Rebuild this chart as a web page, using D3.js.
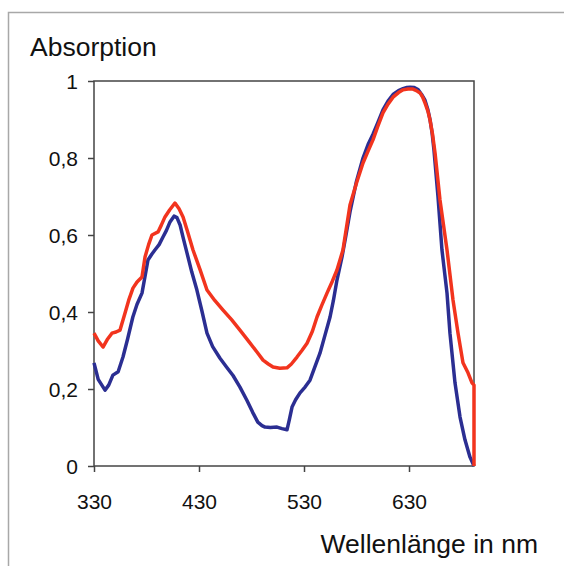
<!DOCTYPE html>
<html>
<head>
<meta charset="utf-8">
<script src="https://cdn.jsdelivr.net/npm/d3@7"></script>
<style>
  html, body { margin: 0; padding: 0; background: #fff; }
  text { font-family: "Liberation Sans", Arial, sans-serif; fill: #111; }
</style>
</head>
<body>
<div id="chart"></div>
<script>
// Wavelength (nm) and absorption readings
const blueNm = [330, 334, 340.5, 344, 348, 353, 357.6, 362, 367, 371, 375.7, 381.4, 385, 388, 392, 395.7, 399, 402.4, 406.2, 409, 412, 415, 418.6, 423, 428, 433, 437.6, 443, 450, 456, 462.4, 469, 475.7, 481, 486, 490, 492.9, 498, 504.3, 509, 513.8, 516, 518.6, 522, 526.2, 531, 535.7, 540, 545.2, 550, 554.8, 558, 561.4, 566.2, 570, 573.8, 580, 586.2, 591, 595.7, 600, 605.2, 610, 614.8, 620, 624.3, 628, 631, 635, 638.6, 642, 645.2, 648, 650, 652, 653.8, 657.6, 661.4, 666.2, 669, 673.8, 678.6, 683.3, 688.1, 691.9];
const blueAbs = [0.268, 0.225, 0.197, 0.21, 0.236, 0.245, 0.283, 0.33, 0.387, 0.42, 0.449, 0.535, 0.55, 0.561, 0.575, 0.595, 0.612, 0.634, 0.649, 0.645, 0.626, 0.592, 0.553, 0.505, 0.457, 0.4, 0.345, 0.31, 0.28, 0.258, 0.235, 0.205, 0.17, 0.14, 0.114, 0.105, 0.101, 0.1, 0.101, 0.097, 0.094, 0.12, 0.153, 0.172, 0.19, 0.205, 0.223, 0.255, 0.293, 0.34, 0.387, 0.43, 0.483, 0.543, 0.6, 0.66, 0.74, 0.8, 0.835, 0.862, 0.89, 0.925, 0.948, 0.965, 0.975, 0.98, 0.983, 0.984, 0.983, 0.978, 0.965, 0.95, 0.925, 0.9, 0.865, 0.82, 0.7, 0.561, 0.449, 0.345, 0.216, 0.127, 0.068, 0.023, 0.0];

const redNm = [330, 334, 338.6, 343, 347.1, 351, 354.8, 359.5, 363, 367.1, 371, 375.7, 378.6, 382, 385.2, 391, 394, 397.6, 402, 407.1, 411, 414.8, 419, 424.3, 431, 437.6, 445, 452.9, 461, 469, 477, 485.2, 491, 496, 500.5, 507, 513.8, 518, 523.3, 528, 532.9, 538, 542.4, 547, 551.9, 557, 561.4, 567.1, 573.8, 580, 586.2, 591, 595.7, 600, 605.2, 610, 614.8, 620, 624.3, 629, 633.8, 637, 640.5, 643, 645.2, 648, 650, 652.5, 654.8, 659.5, 666.2, 671.9, 676.7, 681.4, 686.2, 690, 691.9, 691.9];
const redAbs = [0.345, 0.325, 0.309, 0.33, 0.345, 0.348, 0.353, 0.397, 0.43, 0.462, 0.478, 0.491, 0.543, 0.575, 0.6, 0.608, 0.625, 0.647, 0.665, 0.683, 0.668, 0.647, 0.61, 0.561, 0.51, 0.457, 0.43, 0.405, 0.38, 0.353, 0.325, 0.296, 0.275, 0.265, 0.257, 0.254, 0.255, 0.265, 0.283, 0.3, 0.319, 0.35, 0.387, 0.418, 0.449, 0.48, 0.509, 0.561, 0.678, 0.735, 0.787, 0.818, 0.847, 0.88, 0.917, 0.94, 0.958, 0.97, 0.977, 0.979, 0.979, 0.975, 0.969, 0.958, 0.943, 0.922, 0.899, 0.86, 0.813, 0.691, 0.561, 0.431, 0.345, 0.268, 0.242, 0.216, 0.21, 0.0];

const xTicks = [330, 430, 530, 630];
const yTicks = [0, 0.2, 0.4, 0.6, 0.8, 1];

const width = 564;
const height = 566;
const margin = { top: 81, right: 90, bottom: 100, left: 94 };
const plotW = width - margin.left - margin.right;
const plotH = height - margin.top - margin.bottom;

const svg = d3
  .select("#chart")
  .append("svg")
  .attr("width", width)
  .attr("height", height);

// outer frame, runs off the right and bottom edges
svg
  .append("rect")
  .attr("x", 8.5)
  .attr("y", 12.5)
  .attr("width", width)
  .attr("height", height)
  .attr("fill", "none")
  .attr("stroke", "#a8a8a8")
  .attr("stroke-width", 1.5);

const g = svg
  .append("g")
  .attr("transform", `translate(${margin.left},${margin.top})`);

const x = d3.scaleLinear().domain([330, 691.9]).range([0, plotW]);
const y = d3.scaleLinear().domain([0, 1]).range([plotH, 0]);

// plot box
g.append("rect")
  .attr("width", plotW)
  .attr("height", plotH)
  .attr("fill", "none")
  .attr("stroke", "#444")
  .attr("stroke-width", 1.5);

const xAxis = g
  .append("g")
  .attr("transform", `translate(0,${plotH})`)
  .call(d3.axisBottom(x).tickValues(xTicks).tickSize(6).tickPadding(22));

const yAxis = g
  .append("g")
  .call(
    d3
      .axisLeft(y)
      .tickValues(yTicks)
      .tickSize(6)
      .tickPadding(10)
      .tickFormat((d) => d3.format("")(d).replace(".", ",")),
  );

[xAxis, yAxis].forEach((ax) => {
  ax.select(".domain").remove();
  ax.selectAll(".tick line").attr("stroke", "#444").attr("stroke-width", 1.5);
  ax.selectAll(".tick text")
    .attr("font-size", 21)
    .attr("font-family", "Liberation Sans, Arial, sans-serif")
    .attr("fill", "#111");
});
yAxis.selectAll(".tick text").attr("dy", "0.36em");

const line = d3
  .line()
  .x((d) => x(d[0]))
  .y((d) => y(d[1]))
  .curve(d3.curveLinear);

const blueData = d3.zip(blueNm, blueAbs);
const redData = d3.zip(redNm, redAbs);

g.append("path")
  .datum(blueData)
  .attr("d", line)
  .attr("fill", "none")
  .attr("stroke", "#2b2e92")
  .attr("stroke-width", 3.5)
  .attr("stroke-linejoin", "round");

g.append("path")
  .datum(redData)
  .attr("d", line)
  .attr("fill", "none")
  .attr("stroke", "#f2341e")
  .attr("stroke-width", 3.5)
  .attr("stroke-linejoin", "round");

svg
  .append("text")
  .attr("x", 30)
  .attr("y", 56)
  .attr("font-size", 26.5)
  .text("Absorption");

svg
  .append("text")
  .attr("x", 538)
  .attr("y", 553)
  .attr("text-anchor", "end")
  .attr("font-size", 26.5)
  .text("Wellenlänge in nm");
</script>
</body>
</html>
